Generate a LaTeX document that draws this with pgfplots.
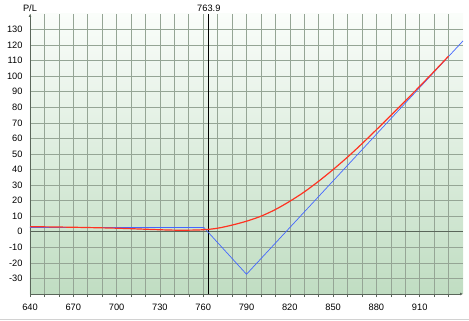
\documentclass[border=0pt]{standalone}
\usepackage{pgfplots}
\pgfplotsset{compat=1.18}
\usetikzlibrary{arrows.meta}
\usepackage{fontspec}
\setmainfont{Liberation Sans}
\definecolor{gridc}{HTML}{95A595}
\definecolor{axc}{HTML}{5A665A}
\definecolor{bgtop}{HTML}{FAFDFA}
\definecolor{bgbot}{HTML}{C0DDC2}
\definecolor{redc}{HTML}{FF3322}
\definecolor{bluec}{HTML}{4466FF}
\begin{document}
\begin{tikzpicture}
\begin{axis}[
  at={(0,0)}, anchor=south west,
  scale only axis, width=433bp, height=280bp,
  xmin=640, xmax=940, ymin=-40, ymax=140,
  axis lines=left,
  axis line style={axc, line width=0.6pt, -{Latex[length=3bp,width=3bp]}},
  xtick={640,670,...,910}, minor xtick={650,660,...,930},
  ytick={-30,-20,...,130},
  grid=both,
  major grid style={gridc, line width=0.6pt},
  minor grid style={gridc, line width=0.6pt},
  tick style={axc, line width=0.5pt},
  tick align=outside,
  major tick length=3bp, minor tick length=3bp,
  ytick style={draw=none},
  tick label style={font=\fontsize{9.3}{11}\selectfont, text=black},
  /pgf/number format/assume math mode=true,
  /pgf/number format/set thousands separator={},
  xticklabel style={yshift=-4bp},
  yticklabel style={xshift=-1bp},
  axis background/.style={shade, top color=bgtop, bottom color=bgbot},
  clip=false,
]
\addplot[axc, line width=0.8pt, forget plot] coordinates {(640,0) (940,0)};
\addplot[black, line width=0.9pt, forget plot] coordinates {(763.9,-40) (763.9,140)};
\addplot[bluec, line width=0.7pt] coordinates {
(640,2.7) (760.5,2.7) (790,-27.3) (940,122.7)
};
\addplot[redc, line width=1.2pt, smooth] coordinates {
(640,3.3) (670,2.9) (700,2.3) (730,1.3) (745,1.0) (760,1.3) (770,2.3) (780,4.3)
(790,6.8) (800,10) (810,14.3) (820,19.6) (830,25.6) (840,32.5) (850,40)
(860,48) (870,56.6) (880,65.6) (890,74.8) (900,84.1) (910,93.5) (920,103.1) (930,112.9)
};
\node[font=\fontsize{9.3}{11}\selectfont, anchor=south] at (axis cs:763.9,140) [yshift=-1.5bp] {763.9};
\node[font=\fontsize{9.3}{11}\selectfont, anchor=south] at (axis cs:640,140) [yshift=-1.5bp] {P/L};
\end{axis}
\pgfresetboundingbox
\useasboundingbox (-30bp,-27bp) rectangle (439bp,294bp);
\draw[gray!35, line width=0.8pt] (-30bp,-25.5bp) -- (439bp,-25.5bp);
\end{tikzpicture}
\end{document}
